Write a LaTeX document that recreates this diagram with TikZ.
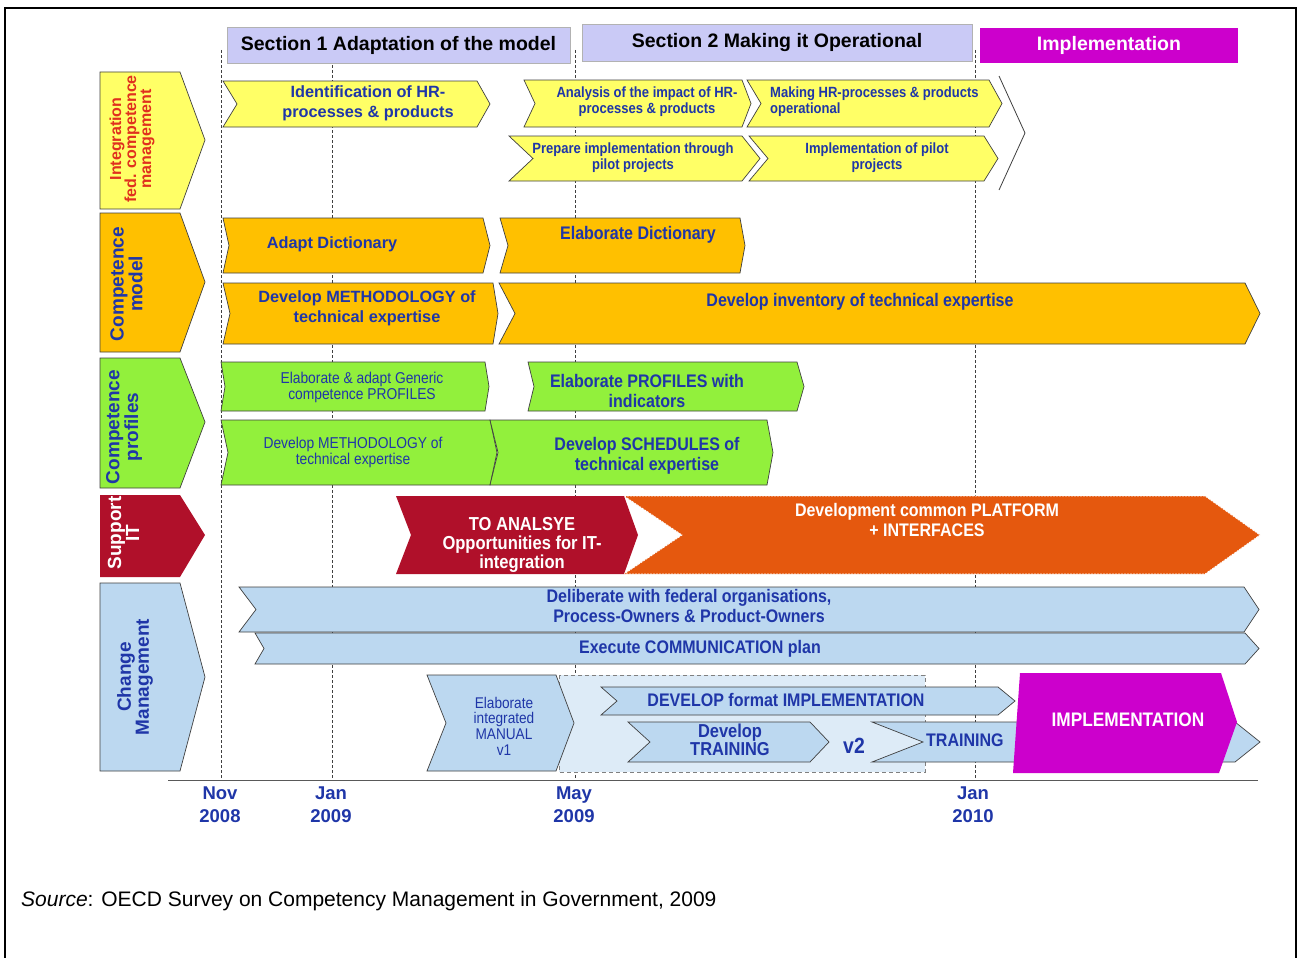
\documentclass[tikz,border=0pt]{standalone}
\usepackage{fontspec}
\setmainfont{Liberation Sans}
\newfontfamily\nar[FakeStretch=0.88]{Liberation Sans}
\definecolor{yel}{HTML}{FFFF66}
\definecolor{org}{HTML}{FFC000}
\definecolor{grn}{HTML}{92F03C}
\definecolor{dred}{HTML}{B0102A}
\definecolor{ored}{HTML}{E5580E}
\definecolor{lblue}{HTML}{BCD8F0}
\definecolor{pblue}{HTML}{DDEBF7}
\definecolor{lav}{HTML}{CACAF6}
\definecolor{mag}{HTML}{CC00CC}
\definecolor{tblue}{HTML}{1F36A8}
\definecolor{tred}{HTML}{E0301E}
\definecolor{outl}{HTML}{404040}
\newcommand{\chev}[7]{\path[#1] (#2,#6) -- (#4,#6) -- (#5,{(#6+#7)/2}) -- (#4,#7) -- (#2,#7) -- (#3,{(#6+#7)/2}) -- cycle;}
\begin{document}
\begin{tikzpicture}[x=1pt,y=-1pt,
  cbox/.style={draw=outl, line width=0.7pt},
  vline/.style={draw=outl, line width=0.6pt, dash pattern=on 3pt off 2pt},
  hdr/.style={inner sep=0pt, font={\bfseries\fontsize{19.5}{20}\selectfont}},
  cat/.style={rotate=90, align=center, inner sep=0pt, font={\bfseries\fontsize{19}{17}\selectfont}},
  t/.style={text=tblue, align=center, inner sep=0pt},
  fb/.style={font={\bfseries\fontsize{16.3}{20}\selectfont}},
  fn/.style={font={\nar\bfseries\fontsize{14.8}{16}\selectfont}},
  fnb/.style={font={\nar\bfseries\fontsize{18.2}{20}\selectfont}},
  fr/.style={font={\nar\fontsize{15.7}{16}\selectfont}},
  date/.style={text=tblue, align=center, inner sep=0pt, font={\bfseries\fontsize{18.5}{23}\selectfont}}]
\useasboundingbox (0,0) rectangle (1298,958);
\fill[white] (0,0) rectangle (1298,958);
\draw[line width=2.5pt] (5,8) rectangle (1296,975);
% vertical dashed lines
\draw[vline] (221,50) -- (221,780);
\draw[vline] (332,50) -- (332,780);
\draw[vline] (575,50) -- (575,780);
\draw[vline] (975,50) -- (975,780);
% headers
\node[hdr, fill=lav, draw=gray!60, minimum width=343pt, minimum height=36pt] (s1) at (398.5,45) {Section 1 Adaptation of the model};
\node[hdr, fill=lav, draw=gray!60, minimum width=390pt, minimum height=37pt] (s2) at (777,42.5) {Section 2 Making it Operational};
\node[hdr, fill=mag, text=white, minimum width=258pt, minimum height=35pt] (s3) at (1109,45.5) {Implementation};
% category chevrons
\path[cbox, fill=yel] (100,72) -- (180,72) -- (205,140) -- (180,209) -- (100,209) -- cycle;
\path[cbox, fill=org] (100,213) -- (180,213) -- (205,282) -- (180,352) -- (100,352) -- cycle;
\path[cbox, fill=grn] (100,358) -- (180,358) -- (205,422) -- (180,488) -- (100,488) -- cycle;
\path[fill=dred] (100,495) -- (180,495) -- (205,535) -- (180,577) -- (100,577) -- cycle;
\path[cbox, fill=lblue] (100,583) -- (180,583) -- (205,677) -- (180,771) -- (100,771) -- cycle;
\node[cat, text=tred, font={\bfseries\fontsize{16}{15}\selectfont}] (c1) at (132,139) {Integration\\fed. competence\\management};
\node[cat, text=tblue] (c2) at (126.5,284) {Competence\\model};
\node[cat, text=tblue] (c3) at (124,427) {Competence\\profiles};
\node[cat, text=white] (c4) at (123.5,533) {Support\\IT};
\node[cat, text=tblue] (c5) at (135,677) {Change\\Management};
% row 1
\chev{cbox, fill=yel}{223}{237}{477}{490}{81}{127}
\node[t, fb] (a1) at (368,103) {Identification of HR-\\processes \& products};
\chev{cbox, fill=yel}{524}{535}{742}{751}{80}{127}
\node[t, fn] (a2) at (647,102) {Analysis of the impact of HR-\\processes \& products};
\chev{cbox, fill=yel}{747}{761}{989}{1002}{80}{127}
\node[t, fn, align=left, anchor=west] (a3) at (770,102) {Making HR-processes \& products\\operational};
\chev{cbox, fill=yel}{509}{533}{742}{760}{136}{181}
\node[t, fn] (a4) at (633,158) {Prepare implementation through\\pilot projects};
\chev{cbox, fill=yel}{749}{768}{984}{998}{136}{181}
\node[t, fn] (a5) at (877,158) {Implementation of pilot\\projects};
\draw[outl, line width=0.8pt] (999,76) -- (1025,133) -- (999,190);
% row 2
\chev{cbox, fill=org}{223}{229}{483}{490}{218}{273}
\node[t, fb] (b1) at (332,244) {Adapt Dictionary};
\chev{cbox, fill=org}{500}{508}{740}{745}{218}{273}
\node[t, fnb] (b2) at (638,235) {Elaborate Dictionary};
\chev{cbox, fill=org}{223}{230}{493}{498}{283}{344}
\node[t, fb] (b3) at (367,308) {Develop METHODOLOGY of\\technical expertise};
\chev{cbox, fill=org}{499}{515}{1245}{1260}{283}{344}
\node[t, fnb] (b4) at (860,302) {Develop inventory of technical expertise};
% row 3
\chev{cbox, fill=grn}{221}{225}{485}{489}{362}{411}
\node[t, fr] (g1) at (362,387) {Elaborate \& adapt Generic\\competence PROFILES};
\chev{cbox, fill=grn}{528}{534}{797}{804}{362}{411}
\node[t, fnb] (g2) at (647,391) {Elaborate PROFILES with\\indicators};
\chev{cbox, fill=grn}{221}{228}{490}{497}{420}{485}
\node[t, fr] (g3) at (353,452) {Develop METHODOLOGY of\\technical expertise};
\chev{cbox, fill=grn}{490}{498}{767}{773}{420}{485}
\node[t, fnb] (g4) at (647,456) {Develop SCHEDULES of\\technical expertise};
% row 4
\chev{fill=ored, draw=white, dash pattern=on 2pt off 1pt, line width=0.8pt}{624}{682}{1205}{1260}{496}{574}
\node[t, fnb, text=white] (d2) at (927,520) {Development common PLATFORM\\+ INTERFACES};
\chev{fill=dred}{396}{411}{624}{638}{496}{574}
\node[t, text=white, font={\nar\bfseries\fontsize{18.8}{19}\selectfont}] (d1) at (522,545) {TO ANALSYE\\Opportunities for IT-\\integration};
% row 5
\chev{cbox, fill=lblue}{239}{256}{1244}{1259}{587}{632}
\node[t, fnb] (e1) at (689,605.5) {Deliberate with federal organisations,\\Process-Owners \& Product-Owners};
\chev{cbox, fill=lblue}{255}{264}{1245}{1259}{633}{664}
\node[t, fnb] (e2) at (700,649) {Execute COMMUNICATION plan};
\path[fill=pblue, draw=gray, dash pattern=on 4pt off 3pt, line width=0.8pt] (559,675) rectangle (925,772);
\chev{cbox, fill=lblue}{427}{446}{556}{574}{675}{771}
\node[t, font={\nar\fontsize{15.5}{15.7}\selectfont}] (e3) at (504,726) {Elaborate\\integrated\\MANUAL\\v1};
\chev{cbox, fill=lblue}{601}{617}{998}{1015}{687}{715}
\node[t, fnb] (e4) at (786,700) {DEVELOP format IMPLEMENTATION};
\chev{cbox, fill=lblue}{628}{650}{810}{829}{722}{762}
\node[t, font={\nar\bfseries\fontsize{18.7}{18}\selectfont}] (e5) at (730,740) {Develop\\TRAINING};
\node[t, font={\nar\bfseries\fontsize{22}{22}\selectfont}] (v2) at (854,746) {v2};
\chev{cbox, fill=lblue}{872}{923}{1235}{1260}{722}{762}
\node[t, fnb, anchor=west] (e6) at (926,740) {TRAINING};
\path[fill=mag] (1020,673) -- (1221,673) -- (1237,722) -- (1219,773) -- (1013,773) -- cycle;
\node[t, text=white, font={\nar\bfseries\fontsize{19.6}{20}\selectfont}] (e7) at (1128,720) {IMPLEMENTATION};
% axis
\draw[gray!70!black, line width=1pt] (168,780) -- (1258,780);
\node[date] (n1) at (220,805) {Nov\\2008};
\node[date] (n2) at (331,805) {Jan\\2009};
\node[date] (n3) at (574,805) {May\\2009};
\node[date] (n4) at (973,805) {Jan\\2010};
% source
\node[anchor=west, inner sep=0pt, font={\fontsize{21}{22}\selectfont}] (src) at (21,901) {\textit{Source}: OECD Survey on Competency Management in Government, 2009};
\end{tikzpicture}
\end{document}
